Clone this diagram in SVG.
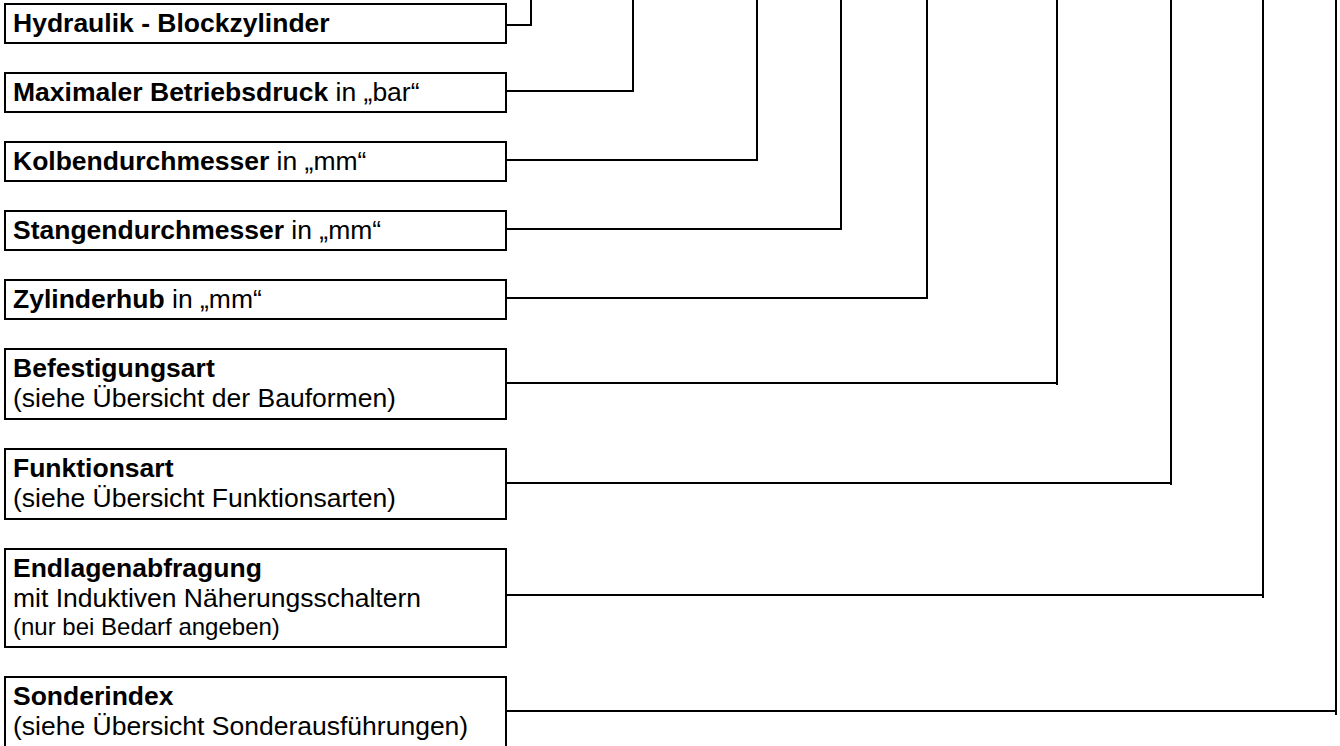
<svg xmlns="http://www.w3.org/2000/svg" width="1340" height="746" viewBox="0 0 1340 746">
<style>
.box{fill:#fff;stroke:#000;stroke-width:2}
.t{font-family:"Liberation Sans",Arial,sans-serif;font-size:26.5px;fill:#000}
.b{font-weight:bold}
.s{font-size:24px}
.c{fill:none;stroke:#000;stroke-width:2;stroke-linecap:square}
</style>
<rect width="1340" height="746" fill="#fff"/>
<g id="connectors">
<path class="c" d="M507,25 H531 V0"/>
<path class="c" d="M507,91 H633 V0"/>
<path class="c" d="M507,160 H757 V0"/>
<path class="c" d="M507,229 H841 V0"/>
<path class="c" d="M507,298 H927 V0"/>
<path class="c" d="M507,383 H1057 M1057,384 V0"/>
<path class="c" d="M507,483 H1171 M1171,484 V0"/>
<path class="c" d="M507,595 H1263 M1263,597 V0"/>
<path class="c" d="M507,711 H1336 M1336,714 V0"/>
</g>
<g id="n1"><rect class="box" x="5" y="4" width="501" height="39"/><text class="t b" x="13" y="32">Hydraulik - Blockzylinder</text></g>
<g id="n2"><rect class="box" x="5" y="73" width="501" height="39"/><text class="t" x="13" y="101"><tspan class="b">Maximaler Betriebsdruck</tspan> in „bar“</text></g>
<g id="n3"><rect class="box" x="5" y="142" width="501" height="39"/><text class="t" x="13" y="170"><tspan class="b">Kolbendurchmesser</tspan> in „mm“</text></g>
<g id="n4"><rect class="box" x="5" y="211" width="501" height="39"/><text class="t" x="13" y="239"><tspan class="b">Stangendurchmesser</tspan> in „mm“</text></g>
<g id="n5"><rect class="box" x="5" y="280" width="501" height="39"/><text class="t" x="13" y="308"><tspan class="b">Zylinderhub</tspan> in „mm“</text></g>
<g id="n6"><rect class="box" x="5" y="349" width="501" height="70"/><text class="t b" x="13" y="377">Befestigungsart</text><text class="t" x="13" y="407">(siehe Übersicht der Bauformen)</text></g>
<g id="n7"><rect class="box" x="5" y="449" width="501" height="70"/><text class="t b" x="13" y="477">Funktionsart</text><text class="t" x="13" y="507">(siehe Übersicht Funktionsarten)</text></g>
<g id="n8"><rect class="box" x="5" y="549" width="501" height="98"/><text class="t b" x="13" y="577">Endlagenabfragung</text><text class="t" x="13" y="607">mit Induktiven Näherungsschaltern</text><text class="t s" x="13" y="635">(nur bei Bedarf angeben)</text></g>
<g id="n9"><rect class="box" x="5" y="677" width="501" height="72"/><text class="t b" x="13" y="705">Sonderindex</text><text class="t" x="13" y="735">(siehe Übersicht Sonderausführungen)</text></g>
</svg>
